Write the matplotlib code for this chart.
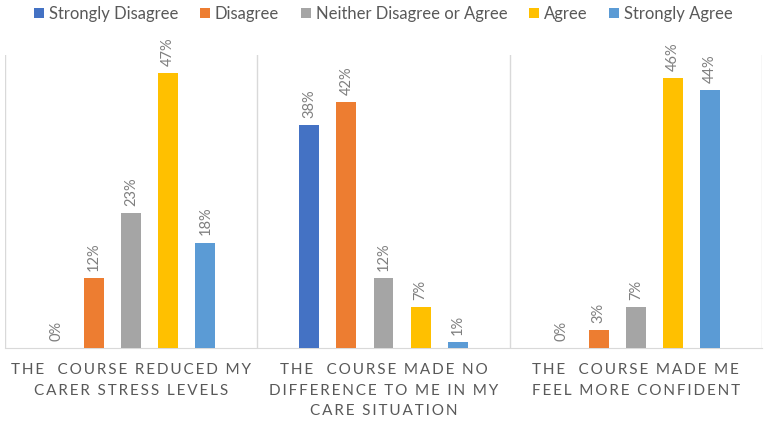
import matplotlib
matplotlib.use("Agg")
import matplotlib.pyplot as plt
import numpy as np
import re

categories = ["THE   COURSE REDUCED MY\nCARER STRESS LEVELS",
              "THE   COURSE MADE NO\nDIFFERENCE TO ME IN MY\nCARE SITUATION",
              "THE   COURSE MADE ME\nFEEL MORE CONFIDENT"]
series_names = ["Strongly Disagree", "Disagree", "Neither Disagree or Agree", "Agree", "Strongly Agree"]
values = {
    "Strongly Disagree": [0, 38, 0],
    "Disagree": [12, 42, 3],
    "Neither Disagree or Agree": [23, 12, 7],
    "Agree": [47, 7, 46],
    "Strongly Agree": [18, 1, 44],
}
colors = ["#4472C4", "#ED7D31", "#A5A5A5", "#FFC000", "#5B9BD5"]

plt.rcParams['font.family'] = ['Lato', 'DejaVu Sans']

def spaced(s):
    out = []
    for line in s.split("\n"):
        line = re.sub(" {3,}", "  ", line)
        out.append("\u2009".join(list(line)))
    return "\n".join(out)

fig = plt.figure(figsize=(7.67, 4.23), dpi=100)
ax = fig.add_axes([5/767, 75/423, 757/767, 293/423])

x = np.arange(len(categories))
slot = 0.147
width = 0.079
for i, name in enumerate(series_names):
    pos = x + (i - 2) * slot
    vals = values[name]
    ax.bar(pos, vals, width=width, color=colors[i], label=name, zorder=3)
    for px, v in zip(pos, vals):
        ax.text(px, v + 1.2, f"{v}%", rotation=90, ha="center", va="bottom",
                fontsize=10.5, color="#7F7F7F")

ax.set_xlim(-0.5, 2.5)
ax.set_ylim(0, 50)
ax.set_yticks([])
ax.set_xticks(x)
ax.set_xticklabels([spaced(c) for c in categories], fontsize=11, color="#595959",
                   linespacing=1.6)
ax.tick_params(axis='x', length=0, pad=11)
for b in [-0.5, 0.5, 1.5, 2.5]:
    ax.axvline(b, color="#D9D9D9", lw=1, zorder=1)
for s in ["top", "right", "left"]:
    ax.spines[s].set_visible(False)
ax.spines["bottom"].set_color("#D9D9D9")

fig.legend(loc="center", bbox_to_anchor=(0.5, 1 - 14/423), ncol=5, frameon=False,
           fontsize=12, handlelength=0.6, handleheight=0.6, handletextpad=0.3,
           columnspacing=1.3, labelcolor="#595959")

fig.savefig("out.png", dpi=100)
